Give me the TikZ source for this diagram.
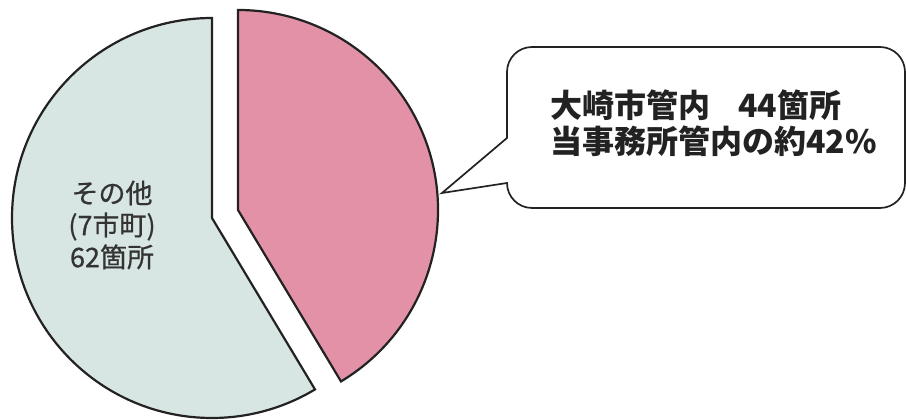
\documentclass[tikz,border=0pt]{standalone}
\usepackage{fontspec}
\newfontfamily\cjk{Noto Sans CJK JP}
\newfontfamily\cjkmed[FakeBold=0.6]{Noto Sans CJK JP}
\definecolor{slicegrey}{HTML}{D8E6E3}
\definecolor{slicepink}{HTML}{E291A6}
\definecolor{inkdark}{HTML}{222222}
\tikzset{
  slice/.style={draw=inkdark, line width=2.2pt, line join=miter},
  callout/.style={draw=inkdark, fill=white, line width=1.7pt, line join=miter},
  bigtext/.style={font=\cjk\bfseries\fontsize{32}{36}\selectfont, text=inkdark, align=left, inner sep=0pt},
  slicetext/.style={font=\cjkmed\fontsize{27}{32}\selectfont, text=black!80, align=center, inner sep=0pt}
}
\begin{document}
\begin{tikzpicture}[x=1pt,y=1pt]
\useasboundingbox (0,0) rectangle (906,420);
% grey slice (62)
\coordinate (gc) at (212,202);
\fill[slicegrey] (gc) -- ++(90:200) arc[start angle=90, end angle=301, radius=200] -- cycle;
\draw[slice] (gc) -- ++(90:200) arc[start angle=90, end angle=301, radius=200] -- cycle;
% pink slice (44), exploded
\coordinate (pc) at (238,210);
\fill[slicepink] (pc) -- ++(-59:200) arc[start angle=-59, end angle=90, radius=200] -- cycle;
\draw[slice] (pc) -- ++(-59:200) arc[start angle=-59, end angle=90, radius=200] -- cycle;
% callout
\coordinate (tip) at (442,227);
\draw[callout] (507,282) -- (507,348) arc[start angle=180, end angle=90, radius=25]
  -- (880,373) arc[start angle=90, end angle=0, radius=25]
  -- (905,237) arc[start angle=0, end angle=-90, radius=25]
  -- (532,212) arc[start angle=270, end angle=180, radius=25]
  -- (tip) -- cycle;
\node[bigtext, anchor=west] (ctext) at (550,297) {大崎市管内\hspace{28pt}44箇所\\当事務所管内の約42\%};
\node[slicetext] (gtext) at (112,195) {その他\\(7市町)\\62箇所};
\end{tikzpicture}
\end{document}
